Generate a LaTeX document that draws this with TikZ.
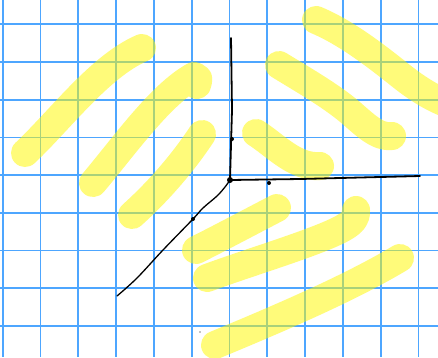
\documentclass[tikz,border=0pt]{standalone}
\definecolor{gridblue}{RGB}{77,166,255}
\definecolor{hiyellow}{RGB}{255,249,0}
\begin{document}
\begin{tikzpicture}[x=1pt,y=-1pt,
  gridline/.style={draw=gridblue,line width=1.7pt},
  hl/.style={draw=hiyellow,line width=28pt,line cap=round,line join=round,draw opacity=0.52},
  pen/.style={draw=black,line width=1.8pt,line cap=round,line join=round},
  thinpen/.style={draw=black,line width=1.3pt,line cap=round,line join=round},
  tickdot/.style={fill=black,inner sep=0pt,minimum size=4pt,circle,draw=none}]
\useasboundingbox (0,0) rectangle (438,357);
\fill[white] (0,0) rectangle (438,357);
% grid
\foreach \i in {0,...,11} \draw[gridline] ({2.7+37.8*\i},0) -- ++(0,357);
\foreach \j in {0,...,8} \draw[gridline] (0,{24.3+37.7*\j}) -- ++(438,0);
% highlighter strokes
\draw[hl] (25,153) .. controls (60,120) and (100,66) .. (142,48);
\draw[hl] (93,183) .. controls (125,145) and (160,95) .. (194,76) .. controls (199,78) .. (197,85);
\draw[hl] (132,215) .. controls (160,190) and (185,160) .. (202,134);
\draw[hl] (316,20) .. controls (345,32) and (375,55) .. (400,75) .. controls (415,87) and (430,97) .. (448,104);
\draw[hl] (279,65) .. controls (300,78) and (330,95) .. (350,112) .. controls (365,125) and (378,138) .. (392,136);
\draw[hl] (256,133) .. controls (275,145) and (295,168) .. (320,166);
\draw[hl] (196,250) .. controls (220,238) and (250,222) .. (277,208);
\draw[hl] (207,278) .. controls (250,262) and (318,242) .. (343,228) .. controls (354,222) and (357,216) .. (356,210);
\draw[hl] (215,345) .. controls (280,318) and (350,288) .. (400,258);
% axes
\coordinate (O) at (230,180);
\coordinate (ytop) at (231,38);
\coordinate (xend) at (420,176);
\coordinate (zend) at (117,296);
\draw[pen] (O) -- (232,110) -- (ytop);
\draw[pen] (O) -- (300,179) -- (xend);
\draw[thinpen] plot[smooth,tension=0.6] coordinates {(O) (225,187) (217,196) (203,208) (193,219) (163,250) (137,278) (zend)};
\node[tickdot,minimum size=6pt] (o) at (O) {};
\node[tickdot] (ty) at (232,139) {};
\node[tickdot] (tx) at (269,183) {};
\node[tickdot] (tz) at (193,219) {};
\fill[black] (200,332) circle (0.6pt);
\end{tikzpicture}
\end{document}
